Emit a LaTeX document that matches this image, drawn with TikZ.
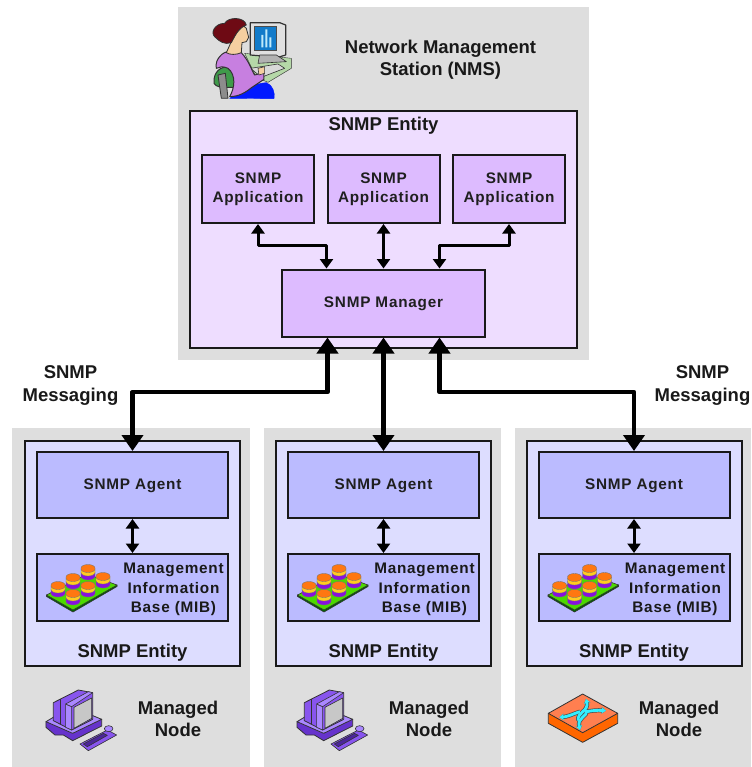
\documentclass[tikz,border=0pt]{standalone}
\usepackage{fontspec}
\setmainfont{Liberation Sans}
\newfontfamily\spaced[LetterSpace=5]{Liberation Sans}
\usetikzlibrary{calc,arrows.meta}
\newcommand\dropped[1]{\raisebox{-4.2pt}[0pt][0pt]{\begin{tabular}{@{}c@{}}#1\end{tabular}}}
\definecolor{panelgray}{HTML}{DEDEDE}
\definecolor{nmsfill}{HTML}{EEDDFF}
\definecolor{appfill}{HTML}{DDBBFF}
\definecolor{entfill}{HTML}{DDDDFF}
\definecolor{agtfill}{HTML}{BBBBFF}
\definecolor{pcmid}{HTML}{8855EE}
\definecolor{pclight}{HTML}{AA88FF}
\definecolor{pcdark}{HTML}{6633CC}
\definecolor{hair}{HTML}{6E0A14}
\definecolor{skin}{HTML}{F5CFA0}
\definecolor{lilac}{HTML}{C77FE0}
\definecolor{deskgreen}{HTML}{B5D8A8}
\definecolor{chairgreen}{HTML}{3F9A4A}
\definecolor{swtop}{HTML}{FF7F50}
\definecolor{swside}{HTML}{FF6600}
\definecolor{arrowcyan}{HTML}{33EEFF}
\definecolor{cylorange}{HTML}{FF7711}
\definecolor{cylyellow}{HTML}{FFCC22}
\definecolor{cylpurple}{HTML}{8811DD}
\tikzset{
 panel/.style={fill=panelgray,draw=none,inner sep=0pt},
 box/.style={draw=black!90,line width=2pt,inner sep=0pt,align=center},
 nmsbox/.style={box,fill=nmsfill},
 appbox/.style={box,fill=appfill,text=black!88,font=\spaced\fontsize{15.3}{19}\selectfont\bfseries},
 entbox/.style={box,fill=entfill},
 agtbox/.style={box,fill=agtfill,text=black!88,font=\spaced\fontsize{15.3}{19}\selectfont\bfseries},
 lbl/.style={align=center,inner sep=0pt,text=black!90,font=\fontsize{18.5}{22.5}\selectfont\bfseries},
 thin link/.style={line width=3pt,black,{Triangle[length=9.5pt,width=13pt]}-{Triangle[length=9.5pt,width=13pt]}},
 thick link/.style={line width=4.8pt,black,line join=round,{Triangle[length=16pt,width=21pt]}-{Triangle[length=16pt,width=21pt]}},
 ic/.style={draw=black!80,line width=.6pt,line join=round},
 cy/.style={draw=black!55,line width=.35pt,line join=round},
 pics/cyl/.style={code={
  \path[cy,fill=cylpurple] (-7,.5) -- (-7,4.5) arc[start angle=180,end angle=0,x radius=7,y radius=3.5] -- (7,.5) -- cycle;
  \path[cy,fill=cylyellow] (-7,-3) -- (-7,.5) arc[start angle=180,end angle=0,x radius=7,y radius=3.5] -- (7,-3) -- cycle;
  \path[cy,fill=cylorange] (-7,-4) -- (-7,-3) arc[start angle=180,end angle=0,x radius=7,y radius=3.5] -- (7,-4) arc[start angle=0,end angle=-180,x radius=7,y radius=3.5] -- cycle;
 }},
 pics/mibicon/.style={code={
  \path[ic,fill=green!40!black] (9.5,42.5) -- (9.5,41) -- (80,31) -- (80,32.5) -- (36,58) -- cycle;
  \path[ic,fill=green!65!yellow!85!black] (9.5,41) -- (50,20) -- (80,31) -- (36,56) -- cycle;
  \pic at (51,18) {cyl};
  \pic at (66,26) {cyl};
  \pic at (36,27) {cyl};
  \pic at (21,35) {cyl};
  \pic at (51,35) {cyl};
  \pic at (36,43) {cyl};
 }},
 pics/computer/.style={code={\begin{scope}[x=.3333pt,y=-.3333pt]
  \path[ic,fill=pcdark,line width=.8pt] (78,125) -- (78,142) -- (105,165) -- (130,165) -- (158,182) -- (245,138) -- (245,118) -- cycle;
  \path[ic,fill=pclight,line width=.8pt] (78,125) -- (120,100) -- (190,95) -- (245,118) -- (158,160) -- cycle;
  \path[ic,fill=pcmid,line width=.8pt] (100,68) -- (175,30) -- (218,38) -- (218,118) -- (155,150) -- (100,122) -- cycle;
  \path[ic,draw=black!80] (120,58) -- (120,132);
  \path[ic,fill=pclight] (137,72) -- (137,142) -- (155,150) -- (155,80) -- cycle;
  \path[ic,fill=pclight] (137,72) -- (205,35) -- (218,38) -- (155,80) -- cycle;
  \path[ic,fill=black!22] (162,82) -- (215,54) -- (215,115) -- (162,145) -- cycle;
  \path[ic,fill=pcmid] (180,192) -- (262,150) -- (290,165) -- (205,212) -- cycle;
  \path[ic,fill=pcdark!75!black] (190,192) -- (250,160) -- (262,166) -- (202,200) -- cycle;
  \path[ic,fill=pclight] (266,146) circle[x radius=13,y radius=9];
 \end{scope}}},
 pics/switchicon/.style={code={\begin{scope}[x=.3333pt,y=-.3333pt]
  \path[ic,fill=swside,line width=.8pt] (55,100) -- (55,130) -- (158,187) -- (263,130) -- (263,100) -- cycle;
  \path[ic,fill=swtop,line width=.8pt] (55,100) -- (158,42) -- (263,100) -- (158,158) -- cycle;
  \foreach \w/\c in {4.2pt/black!70,2.8pt/arrowcyan}{
  \draw[\c,line width=\w,-{Stealth[length=4.5pt,width=6.5pt]}] (150,95) .. controls (125,103) and (115,110) .. (88,112);
  \draw[\c,line width=\w,-{Stealth[length=4.5pt,width=6.5pt]}] (170,95) .. controls (185,92) and (200,90) .. (228,92);
  \draw[\c,line width=\w,-{Stealth[length=4.5pt,width=6.5pt]}] (145,122) .. controls (140,95) and (178,95) .. (168,57);
  \draw[\c,line width=\w,-{Stealth[length=4.5pt,width=6.5pt]}] (170,90) .. controls (175,110) and (140,110) .. (150,150);
  }
 \end{scope}}},
 pics/operator/.style={code={\begin{scope}[x=.3333pt,y=-.3333pt]
  % desk
  \path[ic,fill=deskgreen,line width=.4pt] (200,160) -- (340,175) -- (340,205) -- (270,247) -- (235,232) -- cycle;
  % monitor
  \path[ic,fill=black!12,line width=1.2pt] (217,68) -- (305,68) -- (323,75) -- (323,165) -- (300,172) -- (217,165) -- cycle;
  \path[ic,fill=black!30,line width=.6pt] (245,165) -- (295,165) -- (325,185) -- (240,190) -- cycle;
  \path[fill=cyan!60!blue,draw=black!70,line width=.6pt] (228,78) rectangle (295,150);
  \path[fill=cyan!25!white] (250,142) rectangle (256,105) (262,142) rectangle (268,88) (274,142) rectangle (280,112);
  % keyboard
  \path[ic,fill=black!15,line width=.6pt] (218,205) -- (300,192) -- (320,205) -- (250,232) -- cycle;
  % skirt
  \path[ic,fill=blue!90!cyan,draw=blue!90!cyan,line width=.4pt] (155,295) .. controls (190,270) and (230,250) .. (265,248) .. controls (285,255) and (292,280) .. (288,296) -- cycle;
  % chair back
  \path[ic,fill=chairgreen,line width=1pt] (108,250) .. controls (105,215) and (130,198) .. (150,202) .. controls (180,205) and (185,235) .. (170,262) -- (150,262) .. controls (130,262) and (115,262) .. (108,250) -- cycle;
  \path[ic,fill=black!45,line width=.8pt] (120,225) -- (142,220) -- (150,295) -- (130,295) -- cycle;
  % torso
  \path[ic,fill=lilac,line width=1pt] (125,170) .. controls (140,150) and (170,150) .. (190,158) .. controls (215,185) and (222,215) .. (230,225) -- (258,218) -- (258,238) -- (222,262) .. controls (205,275) and (185,290) .. (155,290) .. controls (170,265) and (175,225) .. (150,205) .. controls (135,198) and (125,200) .. (115,205) .. controls (112,190) and (118,178) .. (125,170) -- cycle;
  % hand
  \path[ic,fill=skin,line width=.6pt] (240,205) -- (260,200) -- (260,220) -- (243,225) -- cycle;
  % neck and face
  \path[ic,fill=skin,line width=.8pt] (145,158) -- (160,125) -- (190,72) -- (205,85) -- (212,112) -- (205,125) -- (192,128) -- (190,158) .. controls (175,165) and (155,165) .. (145,158) -- cycle;
  % hair
  \path[ic,fill=hair,line width=.8pt] (205,75) .. controls (200,50) and (150,50) .. (140,70) .. controls (110,70) and (95,100) .. (112,112) .. controls (125,125) and (140,135) .. (160,128) .. controls (170,110) and (180,85) .. (205,75) -- cycle;
 \end{scope}}},
}
\begin{document}
\begin{tikzpicture}[x=1pt,y=-1pt]
\useasboundingbox (0,0) rectangle (751,767);
% panels
\node[panel,minimum width=411pt,minimum height=353pt] (nmspanel) at (383.5,183.5) {};
\node[panel,minimum width=238pt,minimum height=339pt] (panela) at (131,597.5) {};
\node[panel,minimum width=237pt,minimum height=339pt] (panelb) at (382.5,597.5) {};
\node[panel,minimum width=236pt,minimum height=339pt] (panelc) at (633,597.5) {};
% NMS
\pic at (178,0) {operator};
\node[lbl] (nmslabel) at (440.5,59.5) {Network Management\\Station (NMS)};
\node[nmsbox,minimum width=387pt,minimum height=237pt] (nmsent) at (383.5,229.5) {};
\node[lbl] (nmsenttext) at (383.5,126) {SNMP Entity};
\node[appbox,minimum width=112pt,minimum height=68pt] (appa) at (258,189) {\dropped{SNMP\\Application}};
\node[appbox,minimum width=112pt,minimum height=68pt] (appb) at (383.5,189) {\dropped{SNMP\\Application}};
\node[appbox,minimum width=112pt,minimum height=68pt] (appc) at (509,189) {\dropped{SNMP\\Application}};
\node[appbox,minimum width=203pt,minimum height=67pt] (mgr) at (383.5,303) {\dropped{SNMP Manager}};
% managed entities
\foreach \n/\ax/\tx in {a/132.5/178,b/383.5/429,c/634/679}{
  \node[entbox,minimum width=215pt,minimum height=225pt] (ent\n) at (\ax,553.5) {};
  \node[agtbox,minimum width=191pt,minimum height=66pt] (agt\n) at (\ax,485) {\dropped{SNMP Agent}};
  \node[agtbox,minimum width=191pt,minimum height=67pt] (mib\n) at (\ax,587.5) {};
  \node[lbl,font=\spaced\fontsize{15.3}{19.2}\selectfont\bfseries] (mibt\n) at (\ax+41,589.5) {Management\\Information\\Base (MIB)};
  \node[lbl] (entt\n) at (\ax,653) {SNMP Entity};
  \node[lbl] (node\n) at (\tx,719) {Managed\\Node};
  \pic at (\ax-95.5,554) {mibicon};
  \draw[thin link] (agt\n.south) -- (mib\n.north);
}
\pic at (20,680) {computer};
\pic at (271,680) {computer};
\pic at (530,680) {switchicon};
% messaging labels
\node[lbl] (msga) at (70.5,385.5) {SNMP\\Messaging};
\node[lbl] (msgb) at (702.5,385.5) {SNMP\\Messaging};
% thin links
\draw[thin link,line join=round] (appa.south) |- ($(mgr.north)+(-57,-23)$) -- ($(mgr.north)+(-57,0)$);
\draw[thin link] (appb.south) -- (mgr.north);
\draw[thin link,line join=round] (appc.south) |- ($(mgr.north)+(56,-23)$) -- ($(mgr.north)+(56,0)$);
% thick links
\draw[thick link] ($(mgr.south)+(-56,0)$) |- ($(agta.north)+(0,-59)$) -- (agta.north);
\draw[thick link] (mgr.south) -- (agtb.north);
\draw[thick link] ($(mgr.south)+(56,0)$) |- ($(agtc.north)+(0,-59)$) -- (agtc.north);
\end{tikzpicture}
\end{document}
